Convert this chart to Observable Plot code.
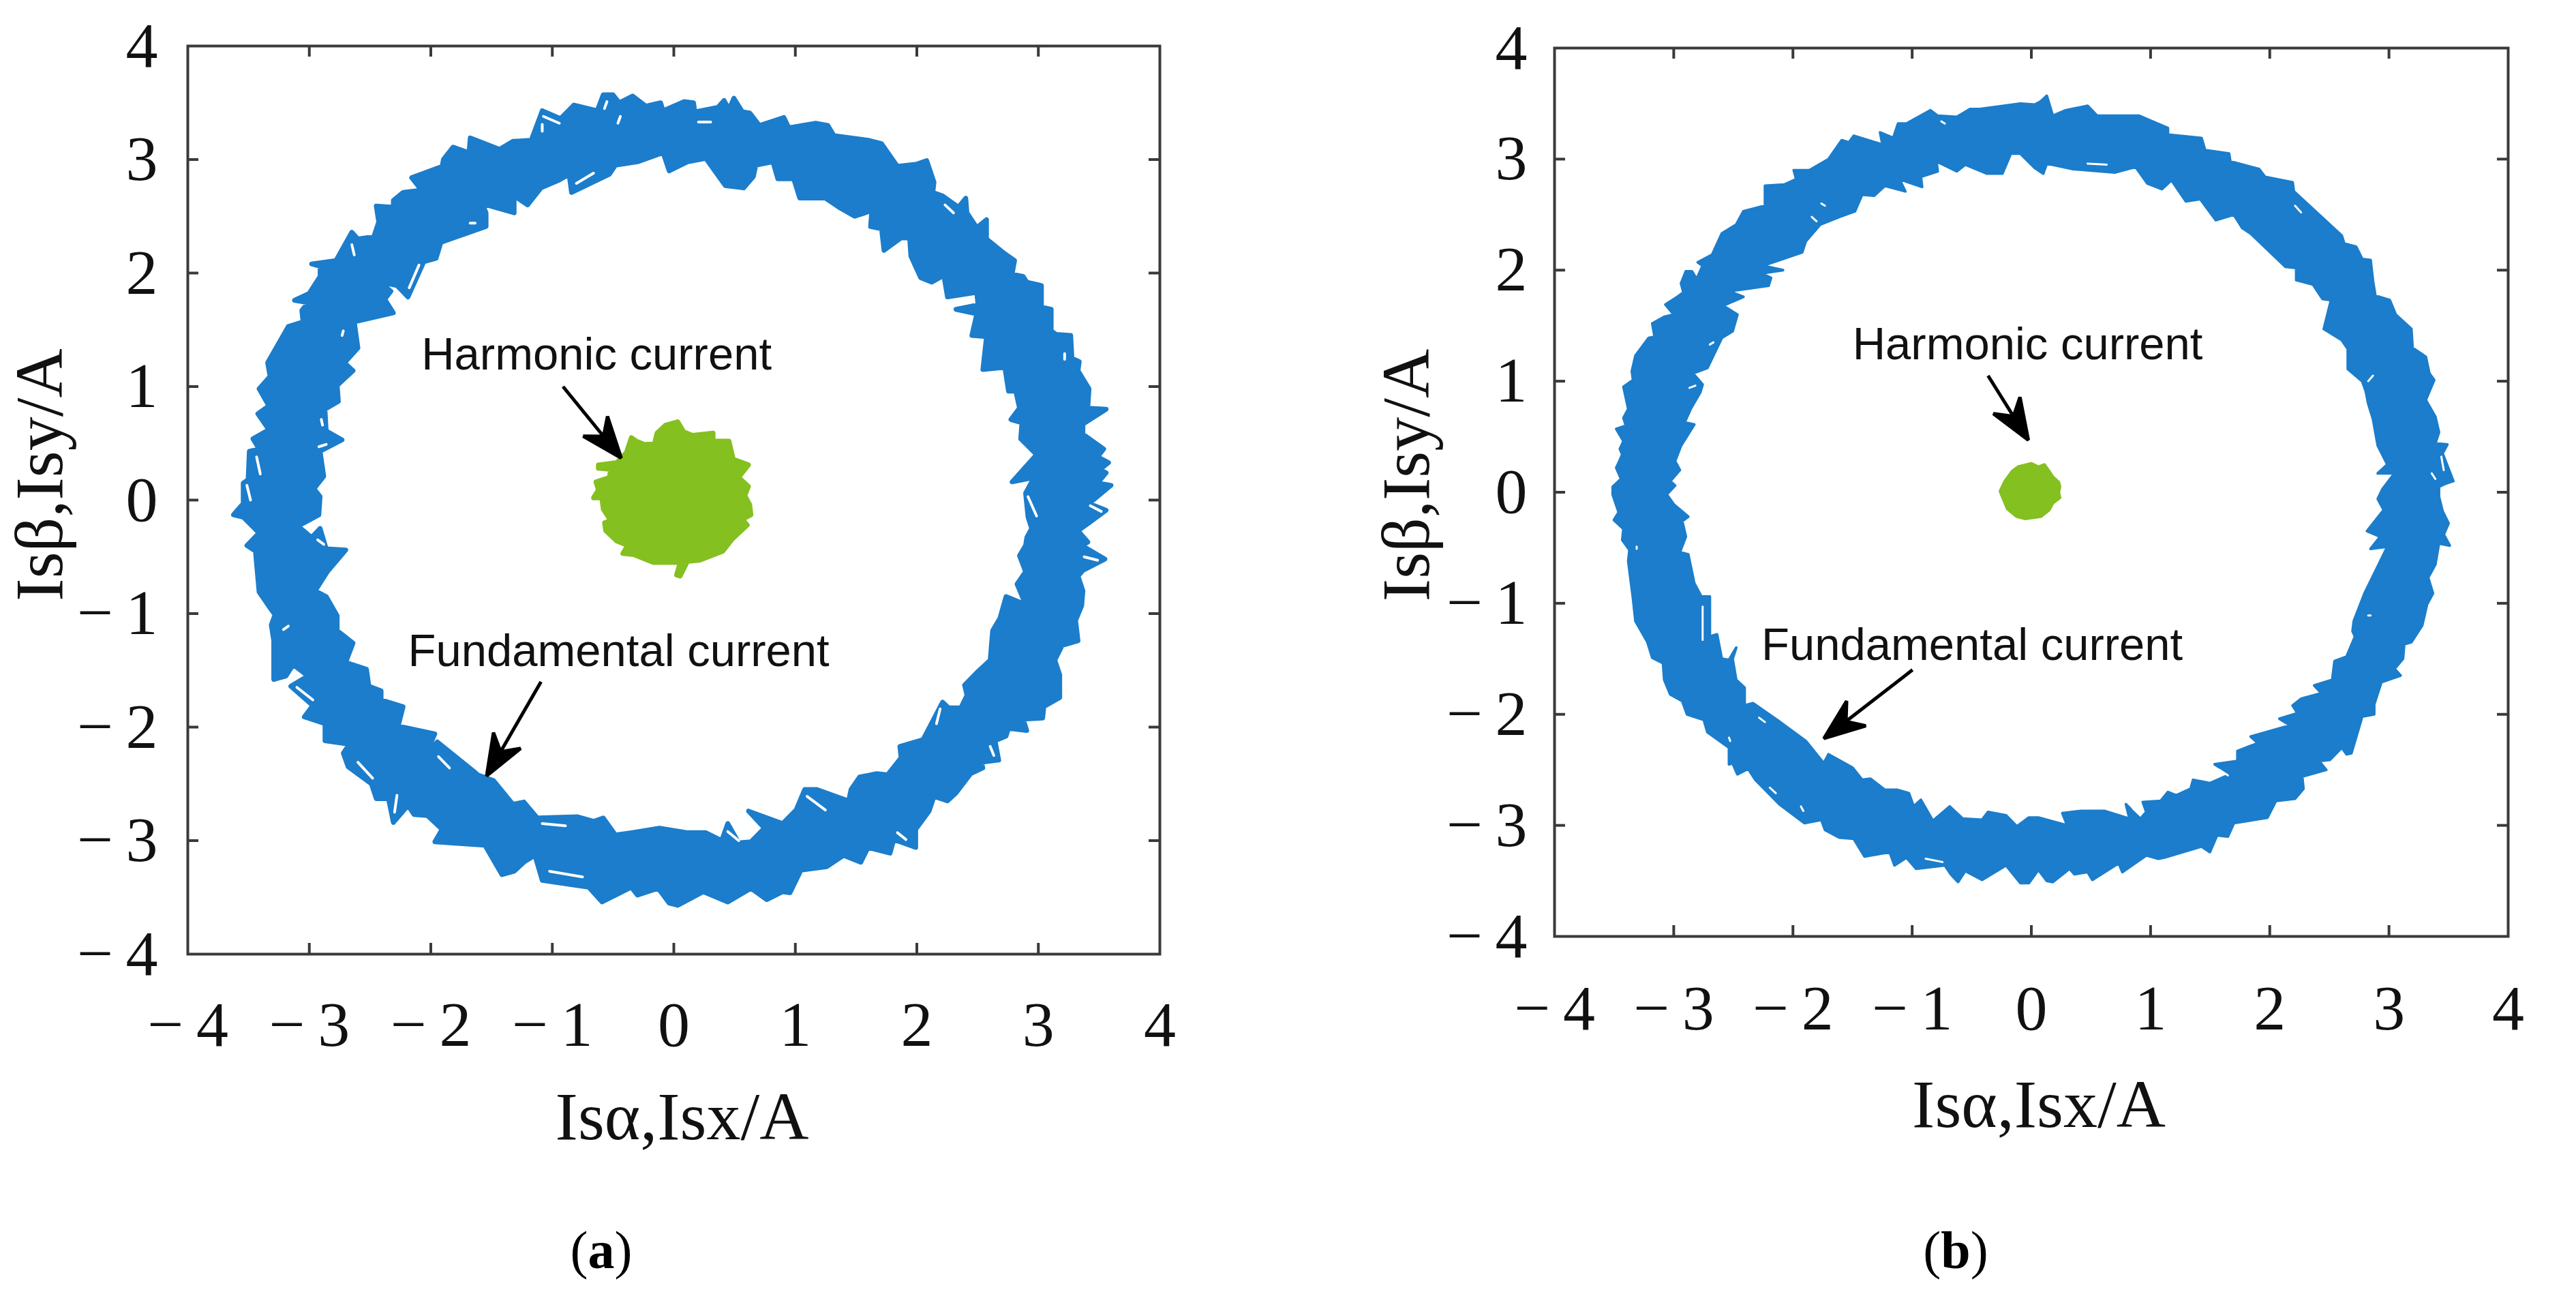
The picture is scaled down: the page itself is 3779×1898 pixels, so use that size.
<!DOCTYPE html>
<html>
<head>
<meta charset="utf-8">
<script src="https://cdn.jsdelivr.net/npm/d3@7"></script>
<script src="https://cdn.jsdelivr.net/npm/@observablehq/plot@0.6"></script>
<style>
html,body{margin:0;padding:0;background:#fff;width:3779px;height:1898px;overflow:hidden}
#a,#b,.cap{position:absolute}
#a{left:0;top:0}
#b{left:1890px;top:0}
.cap{font-family:"Liberation Serif",serif;font-size:78px;line-height:1;transform:translateX(-50%);color:#000}
</style>
</head>
<body>
<div id="a"></div>
<div id="b"></div>
<div class="cap" style="left:882px;top:1795px">(<b>a</b>)</div>
<div class="cap" style="left:2869px;top:1795px">(<b>b</b>)</div>
<script>
const tickValues = [-4,-3,-2,-1,0,1,2,3,4];
const innerTicks = [-3,-2,-1,0,1,2,3];
const xLabel = "Isα,Isx/A";
const yLabel = "Isβ,Isy/A";
const harmonicLabel = "Harmonic current";
const fundamentalLabel = "Fundamental current";

const outerA = [[-3.63,-0.13],[-3.55,-0.03],[-3.55,0.15],[-3.51,0.18],[-3.50,0.43],[-3.42,0.45],[-3.47,0.54],[-3.34,0.62],[-3.43,0.76],[-3.34,0.83],[-3.42,0.98],[-3.33,1.09],[-3.35,1.21],[-3.18,1.53],[-3.06,1.57],[-3.07,1.67],[-3.02,1.74],[-3.13,1.76],[-3.01,1.82],[-2.92,1.97],[-2.92,2.06],[-2.99,2.08],[-2.79,2.11],[-2.66,2.36],[-2.61,2.30],[-2.48,2.32],[-2.44,2.45],[-2.46,2.59],[-2.32,2.58],[-2.32,2.64],[-2.24,2.71],[-2.09,2.73],[-2.17,2.84],[-1.92,2.94],[-1.91,3.0],[-1.83,3.11],[-1.70,3.06],[-1.69,3.19],[-1.45,3.09],[-1.34,3.16],[-1.19,3.17],[-1.10,3.43],[-0.95,3.36],[-0.84,3.48],[-0.65,3.43],[-0.60,3.57],[-0.52,3.57],[-0.47,3.50],[-0.36,3.56],[-0.25,3.47],[-0.13,3.50],[-0.11,3.43],[0.06,3.51],[0.14,3.50],[0.15,3.42],[0.34,3.46],[0.39,3.52],[0.43,3.44],[0.47,3.54],[0.54,3.42],[0.60,3.41],[0.68,3.30],[0.88,3.37],[0.92,3.28],[1.14,3.32],[1.24,3.30],[1.29,3.21],[1.50,3.18],[1.57,3.17],[1.68,3.14],[1.81,2.94],[1.97,2.96],[2.05,2.99],[2.11,2.80],[2.10,2.71],[2.18,2.68],[2.31,2.58],[2.37,2.66],[2.38,2.53],[2.46,2.40],[2.54,2.47],[2.54,2.30],[2.69,2.17],[2.77,2.11],[2.75,1.99],[2.84,1.97],[2.87,1.92],[2.99,1.89],[2.99,1.70],[3.07,1.68],[3.07,1.49],[3.11,1.46],[3.23,1.45],[3.24,1.25],[3.30,1.22],[3.29,1.14],[3.38,0.98],[3.37,0.81],[3.52,0.80],[3.33,0.67],[3.33,0.58],[3.50,0.45],[3.45,0.38],[3.54,0.33],[3.47,0.27],[3.52,0.24],[3.45,0.15],[3.56,0.13],[3.38,-0.03],[3.52,-0.09],[3.38,-0.20],[3.29,-0.27],[3.37,-0.37],[3.32,-0.40],[3.51,-0.52],[3.33,-0.62],[3.29,-0.67],[3.33,-0.80],[3.32,-0.93],[3.27,-1.06],[3.29,-1.24],[3.16,-1.28],[3.10,-1.41],[3.14,-1.54],[3.14,-1.74],[3.01,-1.82],[3.00,-1.92],[2.84,-1.93],[2.87,-2.03],[2.72,-2.01],[2.70,-2.08],[2.61,-2.12],[2.64,-2.29],[2.50,-2.31],[2.51,-2.36],[2.41,-2.41],[2.29,-2.58],[2.22,-2.65],[2.11,-2.61],[2.07,-2.74],[1.96,-2.90],[1.96,-3.06],[1.78,-2.99],[1.75,-3.11],[1.57,-3.06],[1.51,-3.19],[1.37,-3.13],[1.23,-3.23],[1.02,-3.26],[0.93,-3.46],[0.87,-3.45],[0.74,-3.52],[0.61,-3.42],[0.42,-3.54],[0.22,-3.45],[0.01,-3.57],[-0.06,-3.55],[-0.15,-3.42],[-0.32,-3.48],[-0.37,-3.41],[-0.61,-3.54],[-0.72,-3.41],[-1.10,-3.35],[-1.16,-3.13],[-1.25,-3.19],[-1.33,-3.27],[-1.43,-3.30],[-1.57,-3.04],[-1.98,-3.01],[-1.92,-2.90],[-2.04,-2.78],[-2.15,-2.77],[-2.20,-2.69],[-2.32,-2.84],[-2.36,-2.63],[-2.46,-2.63],[-2.50,-2.50],[-2.69,-2.35],[-2.73,-2.23],[-2.68,-2.15],[-2.88,-2.12],[-2.88,-1.97],[-3.05,-1.91],[-2.98,-1.81],[-3.16,-1.64],[-3.02,-1.55],[-3.14,-1.45],[-3.20,-1.55],[-3.30,-1.58],[-3.30,-1.24],[-3.32,-1.10],[-3.29,-1.01],[-3.33,-0.95],[-3.42,-0.81],[-3.45,-0.45],[-3.52,-0.40],[-3.42,-0.29],[-3.55,-0.15]];

const innerA = [[-2.93,-0.13],[-2.92,0.03],[-2.97,0.10],[-2.89,0.21],[-2.92,0.43],[-2.74,0.53],[-2.87,0.61],[-2.88,0.80],[-2.77,0.87],[-2.78,1.01],[-2.65,1.14],[-2.72,1.21],[-2.61,1.34],[-2.64,1.57],[-2.32,1.65],[-2.39,1.77],[-2.34,1.84],[-2.43,1.92],[-2.29,1.89],[-2.20,1.79],[-2.07,2.10],[-1.97,2.13],[-1.93,2.27],[-1.56,2.41],[-1.56,2.53],[-1.59,2.61],[-1.33,2.53],[-1.33,2.68],[-1.22,2.60],[-1.11,2.75],[-0.96,2.82],[-0.88,2.87],[-0.86,2.71],[-0.55,2.87],[-0.50,2.95],[-0.32,2.98],[-0.11,3.06],[-0.06,2.90],[0.09,2.98],[0.24,3.01],[0.40,2.77],[0.55,2.75],[0.63,2.85],[0.65,2.95],[0.79,2.98],[0.83,2.83],[0.96,2.83],[1.01,2.66],[1.22,2.66],[1.33,2.58],[1.46,2.50],[1.60,2.55],[1.59,2.41],[1.68,2.39],[1.70,2.20],[1.84,2.31],[1.91,2.31],[1.92,2.15],[2.00,1.96],[2.09,1.92],[2.19,1.98],[2.22,1.79],[2.46,1.83],[2.47,1.72],[2.29,1.68],[2.46,1.64],[2.42,1.45],[2.54,1.44],[2.51,1.15],[2.69,1.17],[2.72,0.96],[2.78,0.96],[2.81,0.81],[2.74,0.71],[2.83,0.68],[2.82,0.54],[2.95,0.40],[2.75,0.16],[2.93,0.20],[2.86,0.06],[2.88,-0.15],[2.91,-0.25],[2.87,-0.33],[2.86,-0.40],[2.81,-0.49],[2.86,-0.63],[2.79,-0.74],[2.86,-0.92],[2.70,-0.85],[2.65,-1.04],[2.59,-1.15],[2.57,-1.41],[2.46,-1.52],[2.36,-1.63],[2.38,-1.72],[2.33,-1.83],[2.23,-1.83],[2.18,-1.78],[2.02,-2.11],[1.83,-2.17],[1.84,-2.27],[1.73,-2.42],[1.64,-2.41],[1.50,-2.44],[1.43,-2.55],[1.41,-2.65],[1.15,-2.55],[1.05,-2.55],[0.98,-2.73],[0.87,-2.85],[0.59,-2.74],[0.72,-2.89],[0.61,-3.01],[0.51,-3.02],[0.42,-2.85],[0.37,-3.00],[0.24,-2.93],[0.09,-2.93],[-0.14,-2.89],[-0.37,-2.93],[-0.50,-2.95],[-0.60,-2.80],[-0.68,-2.83],[-0.81,-2.79],[-1.14,-2.80],[-1.25,-2.66],[-1.34,-2.68],[-1.50,-2.47],[-1.63,-2.42],[-1.66,-2.39],[-1.96,-2.13],[-2.06,-2.26],[-1.98,-2.06],[-2.28,-1.99],[-2.24,-1.82],[-2.42,-1.76],[-2.42,-1.68],[-2.52,-1.64],[-2.54,-1.49],[-2.71,-1.43],[-2.65,-1.26],[-2.78,-1.15],[-2.78,-1.02],[-2.87,-0.85],[-2.96,-0.80],[-2.86,-0.63],[-2.71,-0.44],[-2.87,-0.43],[-2.92,-0.25],[-2.99,-0.33],[-3.10,-0.23]];

const gapsA = [[-0.82,2.79,-0.68,2.88],[-0.57,3.51,-0.59,3.45],[-0.46,3.38,-0.48,3.32],[-1.09,3.38,-0.96,3.32],[-1.10,3.31,-1.10,3.25],[-2.19,1.87,-2.11,2.07],[-2.66,2.25,-2.64,2.16],[-3.44,0.38,-3.41,0.23],[-3.52,0.13,-3.49,0],[-2.87,0.49,-2.93,0.47],[-2.91,0.71,-2.90,0.66],[-2.73,1.49,-2.74,1.45],[-1.69,2.44,-1.65,2.44],[0.18,3.33,0.28,3.33],[2.20,2.60,2.27,2.53],[2.88,0.03,2.95,-0.14],[3.39,-0.05,3.48,-0.10],[3.18,1.29,3.18,1.24],[-3.11,-1.65,-2.98,-1.76],[-1.95,-2.26,-1.86,-2.36],[-1.10,-2.85,-0.91,-2.87],[-1.04,-3.27,-0.77,-3.32],[-2.61,-2.31,-2.49,-2.45],[-3.22,-1.14,-3.18,-1.11],[-2.29,-2.60,-2.31,-2.75],[-2.94,-0.35,-2.89,-0.39],[1.07,-2.61,1.22,-2.73],[0.42,-2.92,0.51,-3.0],[3.34,-0.50,3.45,-0.53],[2.16,-1.84,2.13,-1.97],[2.57,-2.17,2.60,-2.25],[1.81,-2.93,1.88,-2.99]];

const blobA = [[-0.64,0.31],[-0.49,0.33],[-0.41,0.42],[-0.37,0.55],[-0.33,0.52],[-0.26,0.49],[-0.18,0.50],[-0.16,0.59],[-0.09,0.66],[0.01,0.69],[0.06,0.60],[0.13,0.57],[0.30,0.59],[0.30,0.52],[0.43,0.52],[0.465,0.36],[0.59,0.31],[0.51,0.20],[0.59,0.12],[0.56,0.04],[0.60,-0.04],[0.61,-0.13],[0.54,-0.17],[0.58,-0.22],[0.46,-0.34],[0.38,-0.45],[0.19,-0.53],[0.09,-0.54],[0.03,-0.67],[0.0,-0.66],[0.03,-0.55],[-0.19,-0.55],[-0.35,-0.48],[-0.44,-0.47],[-0.40,-0.40],[-0.49,-0.36],[-0.58,-0.27],[-0.59,-0.20],[-0.54,-0.18],[-0.60,-0.08],[-0.61,0],[-0.56,0.02],[-0.68,0.02],[-0.64,0.09],[-0.66,0.16],[-0.55,0.20],[-0.54,0.27],[-0.64,0.28]];

const outerB = [[-3.52,0.05],[-3.45,0.12],[-3.49,0.22],[-3.46,0.29],[-3.44,0.34],[-3.46,0.39],[-3.43,0.46],[-3.49,0.57],[-3.41,0.60],[-3.43,0.67],[-3.39,0.75],[-3.41,0.85],[-3.43,0.95],[-3.35,1.01],[-3.36,1.09],[-3.33,1.23],[-3.22,1.39],[-3.17,1.40],[-3.19,1.52],[-3.09,1.58],[-3.01,1.60],[-3.08,1.69],[-2.98,1.76],[-2.93,1.80],[-2.95,1.88],[-2.91,1.99],[-2.86,1.99],[-2.82,1.92],[-2.77,2.04],[-2.81,2.07],[-2.69,2.14],[-2.61,2.33],[-2.49,2.41],[-2.43,2.53],[-2.25,2.58],[-2.25,2.76],[-2.09,2.77],[-1.99,2.82],[-2.01,2.90],[-1.88,2.90],[-1.72,3.00],[-1.61,3.17],[-1.55,3.15],[-1.51,3.21],[-1.27,3.13],[-1.29,3.24],[-1.18,3.19],[-1.14,3.32],[-1.07,3.32],[-0.87,3.44],[-0.81,3.39],[-0.65,3.38],[-0.54,3.45],[-0.46,3.45],[-0.32,3.47],[-0.12,3.50],[0,3.49],[0.05,3.52],[0.10,3.57],[0.15,3.39],[0.26,3.44],[0.44,3.48],[0.52,3.39],[0.87,3.39],[1.11,3.28],[1.11,3.22],[1.39,3.19],[1.42,3.08],[1.62,3.05],[1.63,2.98],[1.87,2.91],[1.92,2.84],[2.15,2.79],[2.16,2.71],[2.56,2.31],[2.58,2.24],[2.68,2.21],[2.73,2.10],[2.80,2.09],[2.82,1.90],[2.84,1.77],[2.96,1.73],[3.01,1.60],[3.14,1.47],[3.15,1.30],[3.26,1.22],[3.29,1.07],[3.33,1.01],[3.26,0.83],[3.34,0.68],[3.37,0.54],[3.34,0.44],[3.44,0.43],[3.40,0.35],[3.49,0.10],[3.43,0.08],[3.37,0.05],[3.37,-0.04],[3.40,-0.17],[3.45,-0.28],[3.41,-0.38],[3.46,-0.48],[3.37,-0.46],[3.34,-0.65],[3.28,-0.77],[3.32,-0.91],[3.27,-1.01],[3.23,-1.20],[3.14,-1.35],[3.08,-1.37],[3.07,-1.50],[3.0,-1.59],[3.05,-1.65],[2.89,-1.71],[2.83,-1.91],[2.83,-2.0],[2.73,-2.02],[2.64,-2.35],[2.60,-2.36],[2.56,-2.30],[2.46,-2.41],[2.37,-2.42],[2.43,-2.50],[2.23,-2.56],[2.24,-2.67],[2.17,-2.76],[2.01,-2.78],[1.94,-2.93],[1.66,-2.98],[1.61,-3.10],[1.52,-3.09],[1.46,-3.24],[1.39,-3.19],[1.08,-3.29],[1.03,-3.30],[0.93,-3.27],[0.73,-3.42],[0.70,-3.34],[0.48,-3.49],[0.44,-3.42],[0.33,-3.44],[0.29,-3.39],[0.15,-3.51],[0.10,-3.50],[0.03,-3.40],[-0.05,-3.52],[-0.12,-3.52],[-0.24,-3.36],[-0.44,-3.49],[-0.58,-3.41],[-0.64,-3.51],[-0.70,-3.44],[-0.75,-3.36],[-0.99,-3.39],[-1.07,-3.29],[-1.17,-3.36],[-1.21,-3.24],[-1.42,-3.28],[-1.51,-3.12],[-1.63,-3.11],[-1.75,-3.04],[-1.78,-2.95],[-1.92,-2.98],[-2.13,-2.81],[-2.33,-2.59],[-2.39,-2.49],[-2.48,-2.54],[-2.52,-2.44],[-2.55,-2.45],[-2.55,-2.30],[-2.73,-2.16],[-2.76,-2.05],[-2.90,-2.0],[-2.94,-1.88],[-3.04,-1.82],[-3.09,-1.69],[-3.10,-1.54],[-3.19,-1.49],[-3.23,-1.35],[-3.33,-1.16],[-3.35,-0.96],[-3.39,-0.62],[-3.38,-0.52],[-3.44,-0.43],[-3.43,-0.33],[-3.51,-0.25],[-3.47,-0.18],[-3.52,-0.02]];

const innerB = [[-3.07,-0.02],[-3.0,0.06],[-3.04,0.10],[-2.96,0.20],[-3.0,0.28],[-2.95,0.42],[-2.84,0.61],[-2.92,0.63],[-2.87,0.75],[-2.79,0.90],[-2.77,0.97],[-2.85,1.07],[-2.73,1.12],[-2.61,1.39],[-2.52,1.45],[-2.48,1.60],[-2.60,1.68],[-2.43,1.76],[-2.55,1.81],[-2.22,1.86],[-2.20,1.93],[-2.28,1.97],[-2.10,2.0],[-2.27,2.04],[-1.94,2.16],[-1.91,2.26],[-1.79,2.41],[-1.63,2.48],[-1.50,2.53],[-1.44,2.68],[-1.34,2.67],[-1.25,2.76],[-1.08,2.71],[-1.13,2.82],[-0.94,2.75],[-0.95,2.84],[-0.81,2.89],[-0.82,2.98],[-0.65,2.89],[-0.58,2.95],[-0.40,2.87],[-0.27,2.87],[-0.20,3.05],[-0.12,3.05],[0,2.92],[0.07,2.87],[0.10,2.96],[0.32,2.91],[0.67,2.88],[0.84,2.93],[0.94,2.78],[1.06,2.73],[1.14,2.81],[1.26,2.62],[1.38,2.64],[1.51,2.45],[1.66,2.50],[1.73,2.38],[1.80,2.33],[2.09,2.03],[2.18,2.02],[2.18,1.91],[2.32,1.87],[2.40,1.74],[2.47,1.73],[2.41,1.47],[2.56,1.37],[2.61,1.29],[2.61,1.11],[2.73,1.00],[2.76,0.91],[2.78,0.80],[2.82,0.66],[2.86,0.42],[2.94,0.25],[2.86,0.17],[3.0,0.17],[2.90,0.03],[2.86,-0.06],[2.91,-0.16],[2.77,-0.35],[2.88,-0.40],[2.80,-0.51],[2.94,-0.49],[2.85,-0.69],[2.75,-0.91],[2.66,-1.16],[2.65,-1.25],[2.67,-1.30],[2.60,-1.48],[2.50,-1.52],[2.48,-1.69],[2.33,-1.74],[2.39,-1.81],[2.22,-1.86],[2.15,-1.92],[2.19,-1.99],[2.04,-2.04],[2.13,-2.10],[1.80,-2.20],[1.86,-2.26],[1.69,-2.33],[1.69,-2.42],[1.50,-2.45],[1.63,-2.54],[1.46,-2.62],[1.32,-2.59],[1.30,-2.67],[1.18,-2.73],[1.11,-2.70],[1.05,-2.78],[0.90,-2.79],[0.93,-2.88],[0.88,-2.94],[0.76,-2.81],[0.79,-2.94],[0.58,-2.87],[0.39,-2.87],[0.23,-2.89],[0.27,-3.0],[0.03,-2.93],[-0.05,-2.93],[-0.15,-3.01],[-0.24,-2.91],[-0.39,-2.88],[-0.44,-2.95],[-0.60,-2.94],[-0.71,-2.83],[-0.85,-2.96],[-0.95,-2.77],[-1.01,-2.83],[-1.05,-2.71],[-1.15,-2.68],[-1.25,-2.68],[-1.37,-2.58],[-1.44,-2.59],[-1.52,-2.48],[-1.72,-2.36],[-1.76,-2.44],[-1.91,-2.24],[-2.15,-2.05],[-2.35,-1.90],[-2.42,-1.92],[-2.42,-1.76],[-2.49,-1.69],[-2.52,-1.50],[-2.49,-1.40],[-2.55,-1.51],[-2.61,-1.50],[-2.65,-1.28],[-2.71,-1.30],[-2.71,-0.94],[-2.78,-0.94],[-2.84,-0.82],[-2.89,-0.56],[-2.96,-0.54],[-2.91,-0.40],[-2.94,-0.26],[-2.89,-0.22],[-3.01,-0.11]];

const gapsB = [[-0.78,3.34,-0.75,3.32],[-1.86,2.48,-1.82,2.44],[-1.78,2.60,-1.75,2.58],[-2.88,0.94,-2.83,0.96],[-2.71,1.33,-2.68,1.35],[0.44,2.96,0.60,2.95],[2.17,2.58,2.22,2.52],[2.78,1.00,2.82,1.05],[3.39,0.32,3.41,0.20],[3.31,0.17,3.34,0.12],[-2.77,-1.03,-2.77,-1.33],[-3.32,-0.49,-3.32,-0.51],[-2.30,-2.03,-2.25,-2.07],[-2.55,-2.21,-2.54,-2.24],[-1.95,-2.83,-1.93,-2.87],[-2.21,-2.66,-2.16,-2.71],[-0.91,-3.30,-0.77,-3.33],[1.54,-2.50,1.61,-2.55],[2.78,-1.11,2.80,-1.11],[0.82,-2.85,0.88,-2.91]];

const blobB = [[-0.29,0.01],[-0.25,0.10],[-0.19,0.19],[-0.14,0.23],[-0.03,0.26],[0.03,0.23],[0.08,0.25],[0.12,0.19],[0.15,0.14],[0.20,0.09],[0.21,0.05],[0.20,0],[0.21,-0.05],[0.15,-0.10],[0.12,-0.16],[0.05,-0.22],[-0.08,-0.24],[-0.15,-0.22],[-0.23,-0.15],[-0.26,-0.07],[-0.28,-0.02]];

const arrowsA = [[-0.93,1.0,-0.46,0.38],[-1.11,-1.60,-1.55,-2.42]];
const arrowsB = [[-0.39,1.05,-0.06,0.48],[-1.02,-1.60,-1.75,-2.21]];
const notesA = [[harmonicLabel,-2.09,1.15],[fundamentalLabel,-2.20,-1.46]];
const notesB = [[harmonicLabel,-1.52,1.20],[fundamentalLabel,-2.28,-1.51]];

// Read-off correction: the x values above were read against a slightly different ruler per panel.
const readA = x => 0.022 + 1.0045 * x;
const readB = x => 0.029 + 1.006 * x;

const BLUE = "#1b7dcb", GREEN = "#84c01f", FRAME = "#3a3a3a";
const SERIF = "Liberation Serif", SANS = "Liberation Sans";

function arrowHead(color) {
  const ns = "http://www.w3.org/2000/svg";
  const m = document.createElementNS(ns, "marker");
  m.setAttribute("viewBox", "-62 -26 66 52");
  m.setAttribute("markerUnits", "userSpaceOnUse");
  m.setAttribute("markerWidth", 66);
  m.setAttribute("markerHeight", 52);
  m.setAttribute("refX", 0);
  m.setAttribute("refY", 0);
  m.setAttribute("orient", "auto");
  const p = document.createElementNS(ns, "path");
  p.setAttribute("d", "M2,0L-58,-23L-39,0L-58,23Z");
  p.setAttribute("fill", color);
  m.appendChild(p);
  return m;
}

const fmt = d => d < 0 ? "\u2212\u2009" + (-d) : String(d);

function panel(o) {
  const r = o.read;
  const tickX = 16 / ((o.width - o.ml - o.mr) / 8);
  const tickY = 16 / ((1898 - o.mt - o.mb) / 8);
  const tickStyle = {stroke: FRAME, strokeWidth: 4};
  return Plot.plot({
    width: o.width, height: 1898,
    marginLeft: o.ml, marginRight: o.mr, marginTop: o.mt, marginBottom: o.mb,
    x: {domain: [-4, 4]},
    y: {domain: [-4, 4]},
    style: {background: "white", fontFamily: SERIF, color: "#111", overflow: "visible"},
    marks: [
      Plot.line(o.outer, {x: d => r(d[0]), y: d => d[1], fill: BLUE, stroke: BLUE, strokeWidth: o.sw, curve: "linear-closed"}),
      Plot.line(o.inner, {x: d => r(d[0]), y: d => d[1], fill: "white", stroke: BLUE, strokeWidth: o.sw, curve: "linear-closed"}),
      Plot.link(o.gaps, {x1: d => r(d[0]), y1: d => d[1], x2: d => r(d[2]), y2: d => d[3], stroke: "white", strokeWidth: o.gw, strokeLinecap: "round"}),
      Plot.line(o.blob, {x: d => r(d[0]), y: d => d[1], fill: GREEN, stroke: GREEN, strokeWidth: o.sw, curve: "linear-closed"}),
      Plot.link(o.arrows, {x1: d => r(d[0]), y1: d => d[1], x2: d => r(d[2]), y2: d => d[3], stroke: "black", strokeWidth: 5, markerEnd: arrowHead}),
      Plot.text(o.notes, {text: d => d[0], x: d => r(d[1]), y: d => d[2], textAnchor: "start", lineAnchor: "bottom", fontFamily: SANS, fontSize: 67, fill: "#111"}),
      Plot.ruleX(innerTicks, {x: d => d, y1: -4, y2: -4 + tickY, ...tickStyle}),
      Plot.ruleX(innerTicks, {x: d => d, y1: 4, y2: 4 - tickY, ...tickStyle}),
      Plot.ruleY(innerTicks, {y: d => d, x1: -4, x2: -4 + tickX, ...tickStyle}),
      Plot.ruleY(innerTicks, {y: d => d, x1: 4, x2: 4 - tickX, ...tickStyle}),
      Plot.frame({stroke: FRAME, strokeWidth: 4}),
      Plot.axisX({anchor: "bottom", ticks: tickValues, tickSize: 0, tickPadding: o.xGap, tickFormat: fmt, fontSize: 94, fontFamily: SERIF, label: null, fill: "#111"}),
      Plot.axisY({anchor: "left", ticks: tickValues, tickSize: 0, tickPadding: o.yGap, tickFormat: fmt, fontSize: 94, fontFamily: SERIF, label: null, fill: "#111"}),
      Plot.text([xLabel], {text: d => d, frameAnchor: "bottom", dx: o.xdx, dy: o.xdy, lineAnchor: "bottom", fontFamily: SERIF, fontSize: 100, fill: "#111"}),
      Plot.text([yLabel], {text: d => d, frameAnchor: "left", dx: -185, dy: o.ydy, rotate: -90, textAnchor: "middle", lineAnchor: "bottom", fontFamily: SERIF, fontSize: 100, fill: "#111"})
    ]
  });
}

document.getElementById("a").appendChild(panel({
  width: 1890, ml: 275, mr: 189, mt: 67, mb: 499, read: readA,
  outer: outerA, inner: innerA, gaps: gapsA, blob: blobA, arrows: arrowsA, notes: notesA,
  sw: 7, gw: 4, xGap: 68, yGap: 44,
  xdx: 12, xdy: 271, ydy: -37
}));
document.getElementById("b").appendChild(panel({
  width: 1889, ml: 390, mr: 100, mt: 70, mb: 525, read: readB,
  outer: outerB, inner: innerB, gaps: gapsB, blob: blobB, arrows: arrowsB, notes: notesB,
  sw: 4, gw: 3, xGap: 70, yGap: 40,
  xdx: 11, xdy: 279, ydy: -25
}));
</script>
</body>
</html>
